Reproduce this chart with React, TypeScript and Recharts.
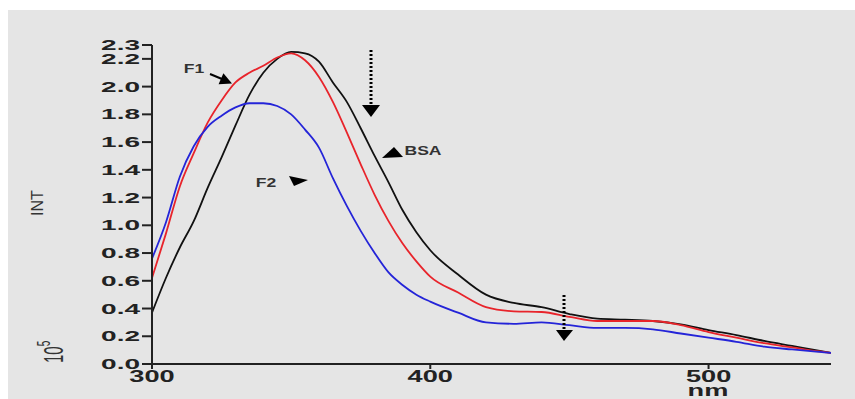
import { LineChart, Line, XAxis, YAxis } from "recharts";

const WAVELENGTH = [
  300, 305, 310, 315, 320, 325, 330, 335, 340, 345, 350, 355, 360, 365, 370, 375, 380, 385,
  390, 395, 400, 410, 420, 430, 440, 450, 460, 470, 480, 490, 500, 510, 520, 530, 540, 544,
];
const BSA = [
  0.37, 0.62, 0.84, 1.03, 1.27, 1.49, 1.72, 1.94, 2.1, 2.2, 2.25, 2.24, 2.18, 2.03, 1.89, 1.7, 1.5, 1.31,
  1.11, 0.95, 0.82, 0.645, 0.5, 0.44, 0.41, 0.36, 0.327, 0.32, 0.31, 0.286, 0.245, 0.209, 0.166, 0.13, 0.094, 0.08,
];
const F1 = [
  0.62, 0.94, 1.28, 1.52, 1.74, 1.9, 2.03, 2.1, 2.15, 2.21, 2.24, 2.19, 2.07, 1.89, 1.67, 1.44, 1.22, 1.03,
  0.87, 0.74, 0.63, 0.515, 0.41, 0.38, 0.375, 0.34, 0.31, 0.31, 0.31, 0.28, 0.23, 0.19, 0.15, 0.12, 0.09, 0.08,
];
const F2 = [
  0.76, 1.02, 1.35, 1.57, 1.71, 1.79, 1.85, 1.88, 1.88, 1.86, 1.8, 1.69, 1.56, 1.34, 1.14, 0.96, 0.8, 0.66,
  0.57, 0.5, 0.45, 0.37, 0.3, 0.29, 0.3, 0.28, 0.26, 0.26, 0.25, 0.22, 0.19, 0.16, 0.125, 0.105, 0.087, 0.08,
];
const X_TICKS = [300, 400, 500];
const Y_TICKS = [0, 0.2, 0.4, 0.6, 0.8, 1.0, 1.2, 1.4, 1.6, 1.8, 2.0, 2.2, 2.3];

const data = WAVELENGTH.map((nm, i) => ({ nm, bsa: BSA[i], f1: F1[i], f2: F2[i] }));

const FONT = '"Liberation Sans", Arial, sans-serif';
const INK = "#222";

function YTick({ x, y, payload }: any) {
  return (
    <text
      transform={`translate(${x},${y}) scale(2,1)`}
      textAnchor="end"
      dy="0.36em"
      fontFamily={FONT}
      fontWeight="bold"
      fontSize={14}
      fill={INK}
    >
      {Number(payload.value).toFixed(1)}
    </text>
  );
}

function XTick({ x, y, payload }: any) {
  return (
    <text
      transform={`translate(${x},${y + 11}) scale(1.6,1)`}
      textAnchor="middle"
      fontFamily={FONT}
      fontWeight="bold"
      fontSize={17}
      fill={INK}
    >
      {payload.value}
    </text>
  );
}

function Annotations() {
  const txt = {
    fontFamily: FONT,
    fontWeight: "bold" as const,
    fontSize: 13,
    fill: "#333",
  };
  return (
    <svg width={855} height={399} style={{ position: "absolute", left: 0, top: 0 }}>
      {/* axis titles */}
      <text transform="translate(37,203) rotate(-90)" textAnchor="middle" dy="0.35em" fontFamily={FONT} fontSize={16} fill="#333">
        INT
      </text>
      <text transform="translate(63,363) scale(1.9,1) rotate(-90)" fontFamily={FONT} fontSize={15} fill="#333">
        10
        <tspan fontSize={10} dy={-7}>5</tspan>
      </text>
      <text transform="translate(708,396) scale(1.6,1)" textAnchor="middle" fontFamily={FONT} fontWeight="bold" fontSize={17} fill={INK}>
        nm
      </text>

      {/* curve labels */}
      <text transform="translate(194,73) scale(1.35,1)" textAnchor="middle" {...txt}>F1</text>
      <line x1={210} y1={74} x2={222} y2={79} stroke="#000" strokeWidth={2} />
      <polygon points="232,83.5 218.6,84.2 223.4,73.2" fill="#000" />

      <text transform="translate(266,186.5) scale(1.35,1)" textAnchor="middle" {...txt}>F2</text>
      <polygon points="289,176 308,180 294,186" fill="#000" />

      <text transform="translate(423,155) scale(1.35,1)" textAnchor="middle" {...txt}>BSA</text>
      <polygon points="382,158 394,147 403,157" fill="#000" />

      {/* dotted arrows */}
      <line x1={371} y1={50} x2={371} y2={106} stroke="#000" strokeWidth={3} strokeDasharray="2 2" />
      <polygon points="362,105 380,105 371,117" fill="#000" />
      <line x1={564} y1={295} x2={564} y2={331} stroke="#000" strokeWidth={3} strokeDasharray="2 2" />
      <polygon points="556,330 573,330 564,341" fill="#000" />
    </svg>
  );
}

export default function App() {
  return (
    <div style={{ position: "fixed", left: 0, top: 0, width: 855, height: 399, background: "#fff", overflow: "hidden" }}>
      <div style={{ position: "absolute", left: 8, top: 10, right: 0, bottom: 0, background: "#e5e5e5" }} />
      <div style={{ position: "absolute", left: 0, top: 0 }}>
        <LineChart width={855} height={399} data={data} margin={{ top: 45, right: 24, bottom: 10, left: 0 }}>
          <XAxis
            dataKey="nm"
            type="number"
            domain={[300, 544]}
            ticks={X_TICKS}
            height={25}
            tickSize={5}
            axisLine={{ stroke: INK, strokeWidth: 2 }}
            tickLine={{ stroke: INK, strokeWidth: 2 }}
            tick={<XTick />}
            allowDataOverflow
          />
          <YAxis
            type="number"
            domain={[0, 2.3]}
            ticks={Y_TICKS}
            interval={0}
            width={152}
            tickSize={10}
            axisLine={{ stroke: INK, strokeWidth: 2 }}
            tickLine={{ stroke: INK, strokeWidth: 2 }}
            tick={<YTick />}
            allowDataOverflow
          />
          <Line type="monotone" dataKey="bsa" stroke="#111" strokeWidth={1.8} dot={false} isAnimationActive={false} />
          <Line type="monotone" dataKey="f1" stroke="#e8242b" strokeWidth={1.8} dot={false} isAnimationActive={false} />
          <Line type="monotone" dataKey="f2" stroke="#2424d8" strokeWidth={1.8} dot={false} isAnimationActive={false} />
        </LineChart>
      </div>
      <Annotations />
    </div>
  );
}
